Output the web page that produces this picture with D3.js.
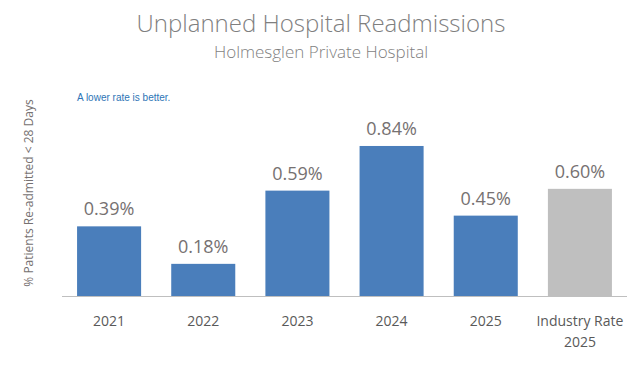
<!DOCTYPE html>
<html lang="en">
<head>
<meta charset="UTF-8">
<title>Unplanned Hospital Readmissions</title>
<script src="https://cdn.jsdelivr.net/npm/d3@7"></script>
<style>
  body { margin: 0; background: #fff; }
</style>
</head>
<body>
<div id="container"></div>
<script>
const categories = ["2021", "2022", "2023", "2024", "2025", "Industry Rate\n2025"];
const values = [0.39, 0.18, 0.59, 0.84, 0.45, 0.60];
const barColors = ["#4a7ebb", "#4a7ebb", "#4a7ebb", "#4a7ebb", "#4a7ebb", "#bfbfbf"];

const width = 642, height = 371;
const baseY = 296;

const svg = d3.select("#container").append("svg")
    .attr("width", width)
    .attr("height", height)
    .style("font-family", "'Open Sans', sans-serif");

const x = d3.scaleBand()
    .domain(categories)
    .range([62, 627])
    .paddingInner(0.32)
    .paddingOuter(0.16);

const y = d3.scaleLinear()
    .domain([0, 1])
    .range([baseY, baseY - 178.6]);

// titles
svg.append("text")
    .attr("x", 321).attr("y", 32)
    .attr("text-anchor", "middle")
    .attr("fill", "#7f7f7f")
    .attr("font-size", 24)
    .attr("font-weight", 300)
    .text("Unplanned Hospital Readmissions");

svg.append("text")
    .attr("x", 321).attr("y", 58)
    .attr("text-anchor", "middle")
    .attr("fill", "#7f7f7f")
    .attr("font-size", 17)
    .attr("font-weight", 300)
    .text("Holmesglen Private Hospital");

svg.append("text")
    .attr("x", 77).attr("y", 101)
    .attr("fill", "#2e75b6")
    .attr("font-size", 10)
    .style("font-family", "'Liberation Sans Narrow', 'Liberation Sans', sans-serif")
    .text("A lower rate is better.");

// y axis title
svg.append("text")
    .attr("transform", `translate(33,${(baseY + 100) / 2 - 5}) rotate(-90)`)
    .attr("text-anchor", "middle")
    .attr("fill", "#767171")
    .attr("font-size", 12)
    .text("% Patients Re-admitted < 28 Days");

// bars
svg.append("g")
    .selectAll("rect")
    .data(values)
    .join("rect")
    .attr("x", (d, i) => x(categories[i]))
    .attr("width", x.bandwidth())
    .attr("y", d => y(d))
    .attr("height", d => y(0) - y(d))
    .attr("fill", (d, i) => barColors[i]);

// value labels
svg.append("g")
    .selectAll("text")
    .data(values)
    .join("text")
    .attr("x", (d, i) => x(categories[i]) + x.bandwidth() / 2)
    .attr("y", d => y(d) - 11)
    .attr("text-anchor", "middle")
    .attr("fill", "#767171")
    .attr("font-size", 18)
    .text(d => d.toFixed(2) + "%");

// x axis
const xAxis = svg.append("g")
    .attr("transform", `translate(0,${baseY})`)
    .call(d3.axisBottom(x).tickSize(0).tickFormat(""));
xAxis.select(".domain").attr("stroke", "#bfbfbf").attr("d", `M62,0.5H627`);

svg.append("g")
    .selectAll("text")
    .data(categories)
    .join("text")
    .attr("x", d => x(d) + x.bandwidth() / 2)
    .attr("y", baseY + 30)
    .attr("text-anchor", "middle")
    .attr("fill", "#595959")
    .attr("font-size", 14)
    .each(function(d) {
        const lines = d.split("\n");
        d3.select(this).selectAll("tspan")
            .data(lines)
            .join("tspan")
            .attr("x", x(d) + x.bandwidth() / 2)
            .attr("dy", (l, i) => i === 0 ? 0 : 21)
            .text(l => l);
    });
</script>
</body>
</html>
